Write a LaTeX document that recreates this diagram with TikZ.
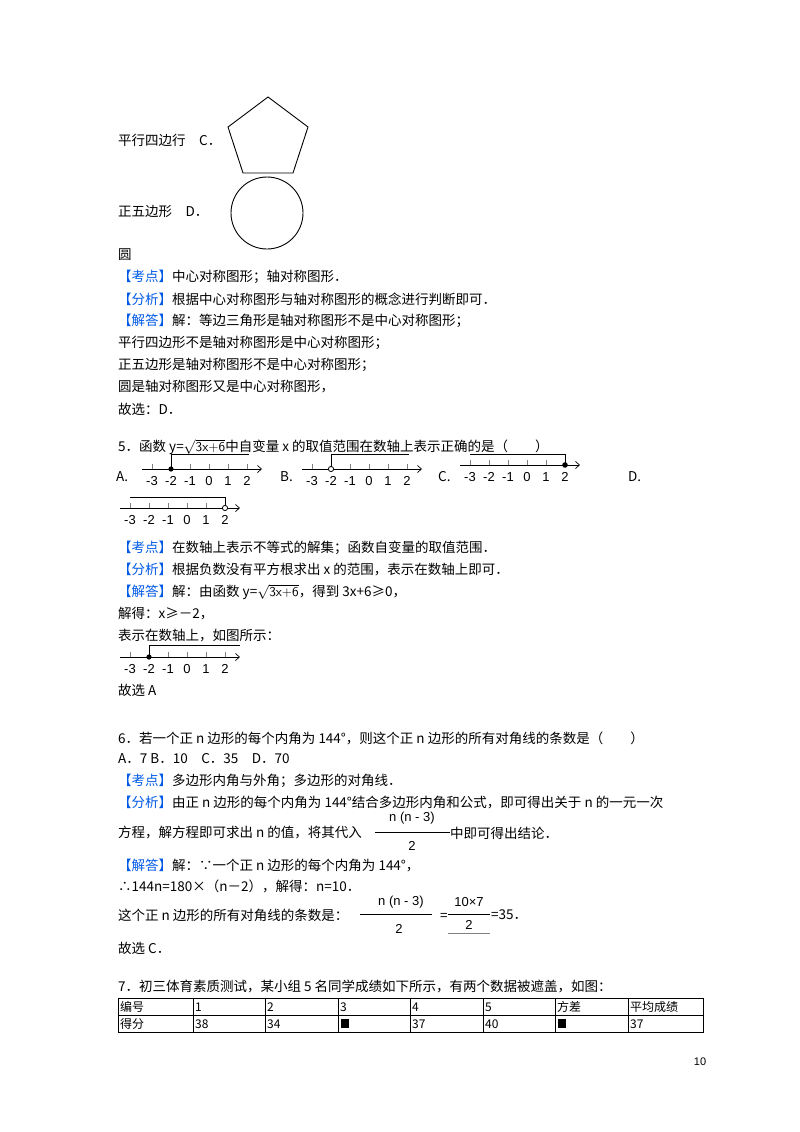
\documentclass[tikz,border=0pt]{standalone}
\usepackage{fontspec}
\setmainfont{Liberation Serif}
\newfontfamily\cjk{Noto Sans CJK SC}
\newfontfamily\sans{Liberation Sans}
\usetikzlibrary{arrows.meta}
\definecolor{kblue}{RGB}{0,90,230}
\tikzset{
 txt/.style={anchor=west,inner sep=0,font=\cjk\fontsize{13.5}{16}\selectfont},
 lbl/.style={inner sep=0,font=\sans\fontsize{13}{14}\selectfont},
 ax/.style={line width=0.7pt,-{Straight Barb[length=4pt,width=7pt]}},
 cell/.style={anchor=west,inner sep=0,font=\cjk\fontsize{12}{14}\selectfont}
}
\newcommand{\kb}[1]{\textcolor{kblue}{【#1】}}
% number line: x0 = position of -3, y = axis
\newcommand{\NL}[2]{%
 \draw[ax] (#1-10,#2) -- (#1+110,#2);
 \foreach \k/\t in {0/-3,1/-2,2/-1,3/0,4/1,5/2}{
  \draw[gray,line width=0.4pt] (#1+19*\k,#2) -- (#1+19*\k,#2-5);
  \node[lbl] at (#1+19*\k,#2+12) {\t};}
}
\begin{document}
\begin{tikzpicture}[x=1pt,y=-1pt]
\useasboundingbox (0,0) rectangle (800,1132);
\fill[white] (0,0) rectangle (800,1132);
% shapes
\node[txt] (t1) at (118,140) {平行四边行\quad C．};
\draw[line width=0.9pt] (268,97) -- (308,127) -- (293,173) -- (243,173) -- (228,127) -- cycle;
\node[txt] (t2) at (118,212) {正五边形\quad D．};
\draw[line width=0.9pt] (267,213) circle (36);
\node[txt] at (118,255) {圆};
\node[txt] at (118,277) {\kb{考点}中心对称图形；轴对称图形．};
\node[txt] at (118,299) {\kb{分析}根据中心对称图形与轴对称图形的概念进行判断即可．};
\node[txt] at (118,321) {\kb{解答}解：等边三角形是轴对称图形不是中心对称图形；};
\node[txt] at (118,343) {平行四边形不是轴对称图形是中心对称图形；};
\node[txt] at (118,365) {正五边形是轴对称图形不是中心对称图形；};
\node[txt] at (118,387) {圆是轴对称图形又是中心对称图形，};
\node[txt] at (118,409) {故选：D．};
% Q5
\node[txt] at (118,447) {5．函数 y=$\sqrt{\textsf{3x+6}}$中自变量 x 的取值范围在数轴上表示正确的是（\qquad）};
\node[txt] at (116,477) {A.};
\NL{152}{469}
\draw (171,469) -- (171,454) -- (249,454);
\fill (171,469) circle (2.6);
\node[txt] at (280,477) {B.};
\NL{312}{469}
\draw (331,466) -- (331,454) -- (409,454);
\draw[fill=white,line width=0.8pt] (331,469) circle (2.6);
\node[txt] at (438,477) {C.};
\NL{470}{465}
\draw (565,465) -- (565,454) -- (470,454);
\fill (565,465) circle (2.8);
\node[txt] at (628,477) {D.};
\NL{130}{508}
\draw (225,505) -- (225,497) -- (130,497);
\draw[fill=white,line width=0.8pt] (225,508) circle (2.6);
\node[txt] at (118,548) {\kb{考点}在数轴上表示不等式的解集；函数自变量的取值范围．};
\node[txt] at (118,570) {\kb{分析}根据负数没有平方根求出 x 的范围，表示在数轴上即可．};
\node[txt] at (118,592) {\kb{解答}解：由函数 y=$\sqrt{\textsf{3x+6}}$，得到 3x+6≥0，};
\node[txt] at (118,614) {解得：x≥－2，};
\node[txt] at (118,636) {表示在数轴上，如图所示：};
\NL{130}{657}
\draw (149,657) -- (149,645) -- (240,645);
\fill (149,657) circle (2.6);
\node[txt] at (118,690) {故选 A};
% Q6
\node[txt] at (118,738) {6．若一个正 n 边形的每个内角为 144°，则这个正 n 边形的所有对角线的条数是（\qquad）};
\node[txt] at (118,759) {A．7 B．10\quad C．35\quad D．70};
\node[txt] at (118,781) {\kb{考点}多边形内角与外角；多边形的对角线．};
\node[txt] at (118,803) {\kb{分析}由正 n 边形的每个内角为 144°结合多边形内角和公式，即可得出关于 n 的一元一次};
\node[txt] (f1) at (118,833) {方程，解方程即可求出 n 的值，将其代入};
\node[lbl] at (412,818) {n (n - 3)};
\draw (375,832) -- (450,832);
\node[lbl] at (412,846) {2};
\node[txt] at (450,833) {中即可得出结论．};
\node[txt] at (118,866) {\kb{解答}解：∵一个正 n 边形的每个内角为 144°，};
\node[txt] at (118,886) {∴144n=180×（n－2），解得：n=10．};
\node[txt] at (118,915) {这个正 n 边形的所有对角线的条数是：};
\node[lbl] at (401,902) {n (n - 3)};
\draw (360,914) -- (432,914);
\node[lbl] at (399,929) {2};
\node[txt] at (440,917) {=};
\node[lbl] at (469,902) {10×7};
\draw (448,914) -- (490,914);
\node[lbl] at (469,925) {2};
\draw[gray,line width=1pt] (448,933) -- (490,933);
\node[txt] at (491,915) {=35．};
\node[txt] at (118,948) {故选 C．};
% Q7
\node[txt] at (118,986) {7．初三体育素质测试，某小组 5 名同学成绩如下所示，有两个数据被遮盖，如图：};
\draw[line width=0.6pt] (118,998) rectangle (703,1032);
\draw[line width=0.6pt] (118,1015) -- (703,1015);
\foreach \x in {193,265,338,410,483,555,628} \draw[line width=0.6pt] (\x,998) -- (\x,1032);
\foreach \x/\t in {120/编号,195/1,267/2,340/3,412/4,485/5,557/方差,630/平均成绩} \node[cell] at (\x,1007) {\t};
\foreach \x/\t in {120/得分,195/38,267/34,412/37,485/40,630/37} \node[cell] at (\x,1024) {\t};
\fill (341,1019) rectangle (349,1028);
\fill (558,1019) rectangle (566,1028);
\node[lbl,font=\sans\fontsize{11}{12}\selectfont] at (700,1062) {10};
\end{tikzpicture}
\end{document}
